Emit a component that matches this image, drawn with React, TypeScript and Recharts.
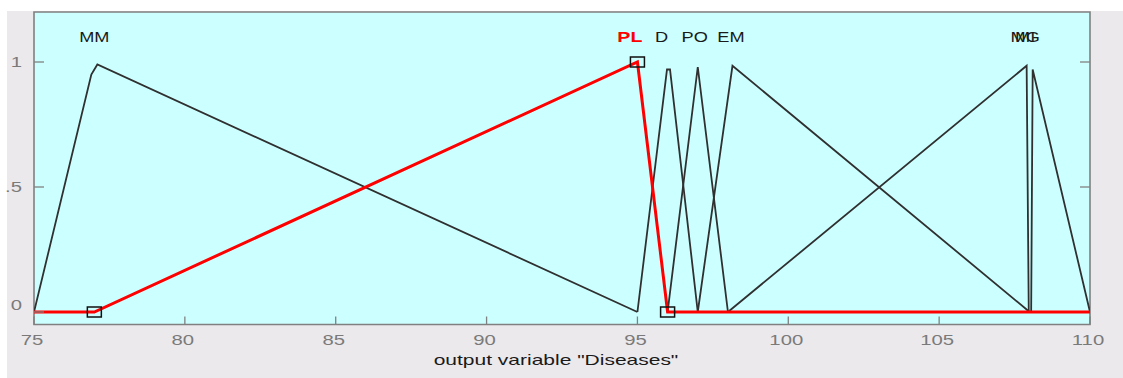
import React from 'react';
import { ComposedChart, Line, Scatter, XAxis, YAxis, ReferenceArea } from 'recharts';

// ---- data ----
const xTicks = [75, 80, 85, 90, 95, 100, 105, 110];
const yTicks = [0, 0.5, 1];
const yTickLabels: Record<number, string> = { 0: '0', 0.5: '.5', 1: '1' };

const mmPts = [
  { x: 75, y: 0 },
  { x: 76.9, y: 0.95 },
  { x: 77.1, y: 0.99 },
  { x: 95, y: 0 },
];
const plPts = [
  { x: 75, y: 0 },
  { x: 77, y: 0 },
  { x: 95, y: 1 },
  { x: 96, y: 0 },
  { x: 110, y: 0 },
];
const plMarkers = [
  { x: 77, y: 0 },
  { x: 95, y: 1 },
  { x: 96, y: 0 },
];
const dPts = [
  { x: 95, y: 0 },
  { x: 95.98, y: 0.97 },
  { x: 96.08, y: 0.97 },
  { x: 97, y: 0 },
];
const poPts = [
  { x: 96, y: 0 },
  { x: 97, y: 0.98 },
  { x: 98, y: 0 },
];
const emPts = [
  { x: 97, y: 0 },
  { x: 98.15, y: 0.985 },
  { x: 108, y: 0 },
];
const mgPts = [
  { x: 98, y: 0 },
  { x: 107.9, y: 0.985 },
  { x: 107.97, y: 0 },
];
const miPts = [
  { x: 108.05, y: 0 },
  { x: 108.1, y: 0.97 },
  { x: 110, y: 0 },
];
const curveLabels = [
  { x: 77, y: 1.1, name: 'MM' },
  { x: 94.75, y: 1.1, name: 'PL' },
  { x: 95.8, y: 1.1, name: 'D' },
  { x: 96.9, y: 1.1, name: 'PO' },
  { x: 98.1, y: 1.1, name: 'EM' },
  { x: 107.85, y: 1.1, name: 'MG' },
  { x: 107.85, y: 1.1, name: 'MI' },
];
const axisTitle = 'output variable "Diseases"';

// ---- styles ----
const FONT = '"Liberation Sans", Arial, Helvetica, sans-serif';
const STRETCH = 1.45;
const LINE = '#303030';
const RED = '#ff0000';
const GRAY = '#808080';

const renderXTick = (p: any) => {
  const { x, y, payload } = p;
  return (
    <g key={`xt-${payload.value}`}>
      <line x1={x} x2={x} y1={y} y2={y - 8} stroke={GRAY} strokeWidth={1.3} />
      <text
        transform={`translate(${x - 2},${y + 20}) scale(${STRETCH},1)`}
        textAnchor="middle"
        fontFamily={FONT}
        fontSize={14}
        fill="#7a7a7a"
      >
        {payload.value}
      </text>
    </g>
  );
};

const renderYTickLeft = (p: any) => {
  const { x, y, payload } = p;
  const dy = payload.value === 0 ? -2 : 5;
  return (
    <g key={`yl-${payload.value}`}>
      <line x1={x} x2={x + 10} y1={y} y2={y} stroke={GRAY} strokeWidth={1.3} />
      <text
        transform={`translate(${x - 12},${y + dy}) scale(${STRETCH},1)`}
        textAnchor="end"
        fontFamily={FONT}
        fontSize={14}
        fill="#7a7a7a"
      >
        {yTickLabels[payload.value]}
      </text>
    </g>
  );
};

const renderYTickRight = (p: any) => {
  const { x, y, payload } = p;
  return <line key={`yr-${payload.value}`} x1={x} x2={x - 10} y1={y} y2={y} stroke={GRAY} strokeWidth={1.3} />;
};

const renderTitle = (p: any) => {
  const vb = p.viewBox || { x: 0, y: 0, width: 0, height: 0 };
  return (
    <text
      transform={`translate(${vb.x + vb.width / 2 - 6},${vb.y + 40}) scale(1.5,1)`}
      textAnchor="middle"
      fontFamily={FONT}
      fontSize={14}
      fill="#1a1a1a"
    >
      {axisTitle}
    </text>
  );
};

const LabelShape = (p: any) => {
  const { cx, cy, payload } = p;
  const isPL = payload.name === 'PL';
  return (
    <text
      transform={`translate(${cx},${cy + 5}) scale(${isPL ? 1.4 : 1.3},1)`}
      textAnchor="middle"
      fontFamily={FONT}
      fontSize={14}
      fontWeight={isPL ? 'bold' : 'normal'}
      fill={isPL ? RED : '#1a1a1a'}
    >
      {payload.name}
    </text>
  );
};

const SquareShape = (p: any) => {
  const { cx, cy } = p;
  return (
    <rect x={cx - 7} y={cy - 5} width={14} height={10} fill="none" stroke="#111" strokeWidth={1.5} />
  );
};

export default function App() {
  return (
    <div style={{ position: 'absolute', left: 0, top: 0, width: 1123, height: 378, background: '#ffffff' }}>
      <div style={{ position: 'absolute', left: 7, top: 11, right: 0, bottom: 0, background: '#ece9ec' }} />
      <div style={{ position: 'absolute', left: 0, top: 0 }}>
        <ComposedChart width={1123} height={378} margin={{ top: 12, right: 32, bottom: 52.5, left: 33 }}>
          <XAxis
            type="number"
            dataKey="x"
            domain={[75, 110]}
            ticks={xTicks}
            interval={0}
            height={1}
            tickSize={0}
            tickMargin={0}
            tickLine={false}
            axisLine={false}
            tick={renderXTick}
            allowDataOverflow
            label={{ content: renderTitle }}
          />
          <YAxis
            type="number"
            dataKey="y"
            domain={[-0.05, 1.2]}
            ticks={yTicks}
            interval={0}
            width={1}
            tickSize={0}
            tickMargin={0}
            tickLine={false}
            axisLine={false}
            tick={renderYTickLeft}
            allowDataOverflow
          />
          <YAxis
            yAxisId="right"
            orientation="right"
            type="number"
            domain={[-0.05, 1.2]}
            ticks={[0.5, 1]}
            interval={0}
            width={1}
            tickSize={0}
            tickMargin={0}
            tickLine={false}
            axisLine={false}
            tick={renderYTickRight}
            allowDataOverflow
          />
          <ReferenceArea
            x1={75}
            x2={110}
            y1={-0.05}
            y2={1.2}
            fill="#ccffff"
            fillOpacity={1}
            stroke={GRAY}
            strokeWidth={1.6}
          />
          <Line data={mmPts} dataKey="y" type="linear" stroke={LINE} strokeWidth={1.8} dot={false} isAnimationActive={false} />
          <Line data={dPts} dataKey="y" type="linear" stroke={LINE} strokeWidth={1.8} dot={false} isAnimationActive={false} />
          <Line data={poPts} dataKey="y" type="linear" stroke={LINE} strokeWidth={1.8} dot={false} isAnimationActive={false} />
          <Line data={emPts} dataKey="y" type="linear" stroke={LINE} strokeWidth={1.8} dot={false} isAnimationActive={false} />
          <Line data={mgPts} dataKey="y" type="linear" stroke={LINE} strokeWidth={1.8} dot={false} isAnimationActive={false} />
          <Line data={miPts} dataKey="y" type="linear" stroke={LINE} strokeWidth={1.8} dot={false} isAnimationActive={false} />
          <Line data={plPts} dataKey="y" type="linear" stroke={RED} strokeWidth={3} dot={false} isAnimationActive={false} />
          <Scatter data={plMarkers} dataKey="y" shape={<SquareShape />} isAnimationActive={false} />
          <Scatter data={curveLabels} dataKey="y" shape={<LabelShape />} isAnimationActive={false} />
        </ComposedChart>
      </div>
    </div>
  );
}
